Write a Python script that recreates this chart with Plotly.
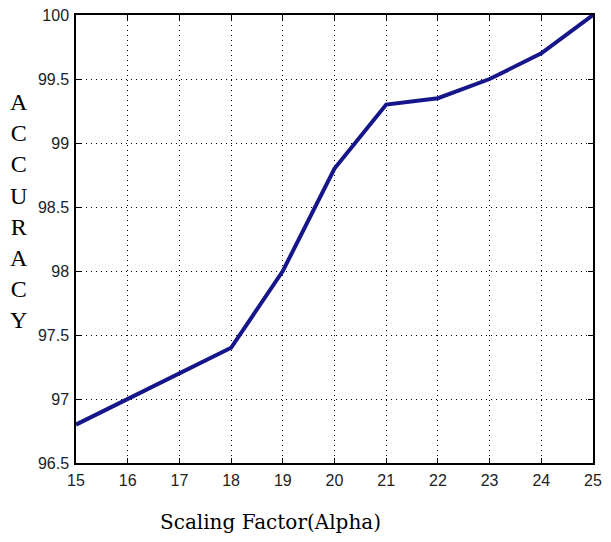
import plotly.graph_objects as go

alpha = [15, 16, 17, 18, 19, 20, 21, 22, 23, 24, 25]
accuracy = [96.8, 97.0, 97.2, 97.4, 98.0, 98.8, 99.3, 99.35, 99.5, 99.7, 100.0]
x_ticks = list(range(15, 26))
y_ticks = [96.5, 97, 97.5, 98, 98.5, 99, 99.5, 100]
y_tick_labels = ["96.5", "97", "97.5", "98", "98.5", "99", "99.5", "100"]
y_label = "ACCURACY"
x_label = "Scaling Factor(Alpha)"

fig = go.Figure()
fig.add_trace(go.Scatter(x=alpha, y=accuracy, mode="lines",
                         line=dict(color="#16168a", width=4)))

axis_common = dict(
    showline=True, linecolor="black", linewidth=1.5, mirror="ticks",
    ticks="inside", ticklen=5, tickcolor="black", tickwidth=1,
    showgrid=True, gridcolor="black", gridwidth=1, griddash="1px,4px",
    zeroline=False, automargin=False, ticklabeloverflow="allow",
    tickfont=dict(family="Liberation Sans, Arial", size=16, color="#222"),
)

fig.update_xaxes(range=[15, 25], tickvals=x_ticks, ticklabelstandoff=2, **axis_common)
fig.update_yaxes(range=[96.5, 100], tickvals=y_ticks, ticktext=y_tick_labels,
                 ticklabelstandoff=2, **axis_common)

fig.add_annotation(text="<br>".join(list(y_label)), xref="paper", yref="paper",
                   x=-0.111, y=0.5625, xanchor="center", yanchor="middle",
                   showarrow=False, align="center",
                   font=dict(family="Liberation Serif, Times New Roman", size=24, color="black"))
fig.add_annotation(text=x_label, xref="paper", yref="paper",
                   x=0.377, y=-0.132, xanchor="center", yanchor="middle",
                   showarrow=False,
                   font=dict(family="DejaVu Serif", size=20, color="black"))

# page body has an 8px default margin, so the figure is offset accordingly
fig.update_layout(width=603, height=526, plot_bgcolor="white", paper_bgcolor="white",
                  margin=dict(l=68, r=18, t=7, b=71), showlegend=False)

fig.write_html("out.html")
